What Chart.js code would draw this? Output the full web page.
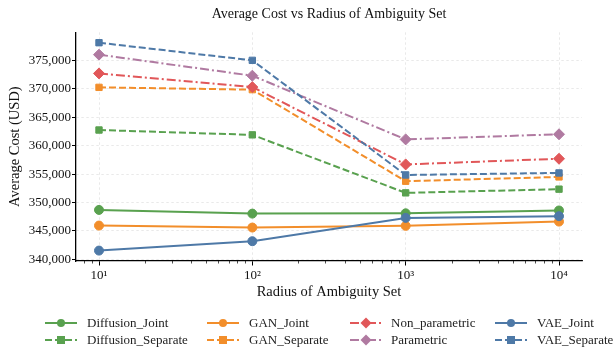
<!DOCTYPE html>
<html>
<head>
<meta charset="utf-8">
<script src="https://cdn.jsdelivr.net/npm/chart.js@4.4.1/dist/chart.umd.min.js"></script>
<style>
  html, body { margin: 0; padding: 0; background: #ffffff; }
  #wrap { position: relative; width: 613px; height: 349px; overflow: hidden; }
  #c { position: absolute; left: 0; top: 0; }
  .lg { position: absolute; height: 14px; display: flex; align-items: center; font-family: "Liberation Serif", "Times New Roman", serif; font-size: 13px; color: #222; white-space: nowrap; }
  .lg svg { display: block; margin-right: 9px; }
</style>
</head>
<body>
<div id="wrap">
  <canvas id="c" width="613" height="349"></canvas>
  <div id="legend"></div>
</div>
<script>
// ---- data ----
const radii = [10, 100, 1000, 10000];
const xTickValues = [10, 100, 1000, 10000];
const xTickLabels = ['10\u00B9', '10\u00B2', '10\u00B3', '10\u2074'];
const yTickValues = [340000, 345000, 350000, 355000, 360000, 365000, 370000, 375000];

const seriesNames = ['Diffusion_Joint', 'Diffusion_Separate', 'GAN_Joint', 'GAN_Separate',
                     'Non_parametric', 'Parametric', 'VAE_Joint', 'VAE_Separate'];

const diffusionJoint    = [348700, 348050, 348100, 348600];
const diffusionSeparate = [362750, 361900, 351700, 352350];
const ganJoint          = [345950, 345600, 345900, 346650];
const ganSeparate       = [370250, 369850, 353750, 354500];
const nonParametric     = [372700, 370300, 356700, 357700];
const parametric        = [376000, 372300, 361100, 362000];
const vaeJoint          = [341550, 343200, 347300, 347600];
const vaeSeparate       = [378100, 375000, 354850, 355200];

const seriesValues = [diffusionJoint, diffusionSeparate, ganJoint, ganSeparate,
                      nonParametric, parametric, vaeJoint, vaeSeparate];

// ---- styles ----
const GREEN = '#59A14F', ORANGE = '#F28E2B', RED = '#E15759', PURPLE = '#B07AA1', BLUE = '#4E79A7';
const DASH = [7, 3];
const DASHDOT = [9, 3, 2, 3];
const styles = [
  { color: GREEN,  dash: [],      marker: 'circle',  r: 4.5 },
  { color: GREEN,  dash: DASH,    marker: 'rect',    r: 4.5 },
  { color: ORANGE, dash: [],      marker: 'circle',  r: 4.5 },
  { color: ORANGE, dash: DASH,    marker: 'rect',    r: 4.5 },
  { color: RED,    dash: DASHDOT, marker: 'rectRot', r: 5.5 },
  { color: PURPLE, dash: DASHDOT, marker: 'rectRot', r: 5.5 },
  { color: BLUE,   dash: [],      marker: 'circle',  r: 4.5 },
  { color: BLUE,   dash: DASH,    marker: 'rect',    r: 4.5 }
];

const datasets = seriesNames.map((name, i) => ({
  label: name,
  data: radii.map((x, j) => ({ x: x, y: seriesValues[i][j] })),
  borderColor: styles[i].color,
  backgroundColor: styles[i].color,
  borderWidth: 2,
  borderDash: styles[i].dash,
  pointStyle: styles[i].marker,
  pointRadius: styles[i].r,
  pointBorderWidth: 1,
  pointBorderColor: styles[i].color,
  pointBackgroundColor: styles[i].color,
  tension: 0,
  order: -i
}));

const FONT = '"Liberation Serif", "Times New Roman", serif';

// minor ticks on log x-axis
const minorTicks = {
  id: 'minorTicks',
  afterDraw(chart) {
    const xs = chart.scales.x;
    const ctx = chart.ctx;
    ctx.save();
    ctx.strokeStyle = '#000';
    ctx.lineWidth = 0.7;
    for (let k = 0; k <= 4; k++) {
      for (let m = 2; m <= 9; m++) {
        const v = m * Math.pow(10, k);
        if (v < xs.min || v > xs.max) continue;
        const px = Math.round(xs.getPixelForValue(v)) + 0.5;
        ctx.beginPath();
        ctx.moveTo(px, xs.top);
        ctx.lineTo(px, xs.top + 2.5);
        ctx.stroke();
      }
    }
    ctx.restore();
  }
};

new Chart(document.getElementById('c'), {
  type: 'line',
  data: { datasets },
  plugins: [minorTicks],
  options: {
    responsive: false,
    animation: false,
    devicePixelRatio: 1,
    layout: { padding: { left: 0, right: 31, top: 0, bottom: 45 } },
    plugins: {
      legend: { display: false },
      tooltip: { enabled: false },
      title: {
        display: true,
        fullSize: false,
        text: 'Average Cost vs Radius of Ambiguity Set',
        color: '#111',
        font: { family: FONT, size: 14, weight: 'normal' },
        padding: { top: 6, bottom: 9.5 }
      }
    },
    scales: {
      x: {
        type: 'logarithmic',
        min: Math.pow(10, 0.85),
        max: Math.pow(10, 4.15),
        afterBuildTicks: (s) => { s.ticks = xTickValues.map(v => ({ value: v })); },
        afterFit: (s) => { s.height = 43; },
        ticks: {
          autoSkip: false,
          maxRotation: 0,
          padding: 2,
          color: '#111',
          font: { family: FONT, size: 13 },
          callback: (v) => { const i = xTickValues.indexOf(v); return i >= 0 ? xTickLabels[i] : ''; }
        },
        grid: {
          color: '#e3e3e3',
          lineWidth: 0.8,
          tickColor: '#000',
          tickLength: 4.5,
          tickWidth: 1,
          tickBorderDash: []
        },
        border: { display: true, color: '#000', width: 1.3, dash: [2.5, 2.5] },
        title: {
          display: true,
          text: 'Radius of Ambiguity Set',
          color: '#111',
          font: { family: FONT, size: 14.5 },
          padding: { top: 0, bottom: 3 }
        }
      },
      y: {
        type: 'linear',
        min: 339720,
        max: 379930,
        afterBuildTicks: (s) => { s.ticks = yTickValues.map(v => ({ value: v })); },
        afterFit: (s) => { s.width = 76; },
        ticks: {
          padding: 1,
          color: '#111',
          font: { family: FONT, size: 13 },
          callback: (v) => Number(v).toLocaleString('en-US')
        },
        grid: {
          color: '#e3e3e3',
          lineWidth: 0.8,
          tickColor: '#000',
          tickLength: 4,
          tickWidth: 1,
          tickBorderDash: []
        },
        border: { display: true, color: '#000', width: 1.3, dash: [2.5, 2.5] },
        title: {
          display: true,
          text: 'Average Cost (USD)',
          color: '#111',
          font: { family: FONT, size: 14.5 },
          padding: { top: 6, bottom: 0 }
        }
      }
    }
  }
});

// ---- legend (column-major, 4 columns x 2 rows) ----
const legendCols = [
  { lineX: 45,  textX: 87 },
  { lineX: 207, textX: 249 },
  { lineX: 350, textX: 391 },
  { lineX: 495, textX: 537 }
];
const legendRowsY = [323, 340];

function sampleSvg(st) {
  const w = 32, h = 12, cy = 6, cx = 16;
  const dash = st.dash.length ? ` stroke-dasharray="${st.dash.join(',')}"` : '';
  let mk = '';
  if (st.marker === 'circle') mk = `<circle cx="${cx}" cy="${cy}" r="${st.r - 0.5}" fill="${st.color}"/>`;
  else if (st.marker === 'rect') mk = `<rect x="${cx - st.r + 0.5}" y="${cy - st.r + 0.5}" width="${2 * st.r - 1}" height="${2 * st.r - 1}" fill="${st.color}"/>`;
  else mk = `<polygon points="${cx},${cy - st.r} ${cx + st.r},${cy} ${cx},${cy + st.r} ${cx - st.r},${cy}" fill="${st.color}"/>`;
  return `<svg width="${w}" height="${h}" viewBox="0 0 ${w} ${h}"><line x1="0" y1="${cy}" x2="${w}" y2="${cy}" stroke="${st.color}" stroke-width="2"${dash}/>${mk}</svg>`;
}

const legendEl = document.getElementById('legend');
seriesNames.forEach((name, i) => {
  const col = Math.floor(i / 2), row = i % 2;
  const d = document.createElement('div');
  d.className = 'lg';
  d.style.left = legendCols[col].lineX + 'px';
  d.style.top = (legendRowsY[row] - 7) + 'px';
  d.innerHTML = sampleSvg(styles[i]) + `<span style="margin-left:${legendCols[col].textX - legendCols[col].lineX - 41}px">${name}</span>`;
  legendEl.appendChild(d);
});
</script>
</body>
</html>
